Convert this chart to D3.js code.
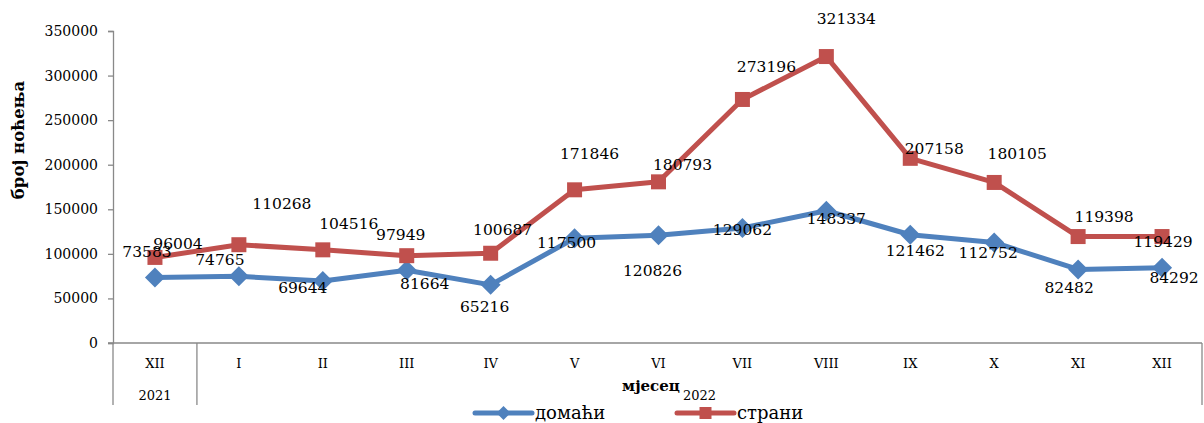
<!DOCTYPE html>
<html>
<head>
<meta charset="utf-8">
<script src="https://cdn.jsdelivr.net/npm/d3@7"></script>
<style>
  html, body { margin: 0; padding: 0; background: #fff; }
  svg { display: block; font-family: "DejaVu Serif", serif; }
</style>
</head>
<body>
<svg id="chart" width="1204" height="423"></svg>
<script>
// ---- data ----
const categories = ["XII", "I", "II", "III", "IV", "V", "VI", "VII", "VIII", "IX", "X", "XI", "XII"];
const yearGroups = [
  { label: "2021", first: 0, last: 0 },
  { label: "2022", first: 1, last: 12 }
];
const seriesNames = ["домаћи", "страни"];
const domestic = [73583, 74765, 69644, 81664, 65216, 117500, 120826, 129062, 148337, 121462, 112752, 82482, 84292];
const foreign  = [96004, 110268, 104516, 97949, 100687, 171846, 180793, 273196, 321334, 207158, 180105, 119398, 119429];
const yTicks = [0, 50000, 100000, 150000, 200000, 250000, 300000, 350000];
const yTitle = "број ноћења";
const xTitle = "мјесец";

// label offsets (pixels from point, layout only)
const domesticLabelOffsets = [[-8,-26],[-19,-17],[-20,7],[18,13],[-6,22],[-8,4],[-6,35],[0,1],[10,8],[5,16],[-6,10],[-9,18],[12,10]];
const foreignLabelOffsets  = [[23,-14],[43,-41],[26,-26],[-6,-21],[12,-24],[15,-36],[24,-17],[24,-33],[20,-38],[24,-10],[23,-29],[26,-20],[1,5]];

const colors = { blue: "#4F81BD", red: "#C0504D", axis: "#898989" };

const svg = d3.select("#chart");
const plotLeft = 113, plotRight = 1204, plotTop = 31, plotBottom = 343, rightEdge = 1202;

const x = d3.scaleBand().domain(d3.range(categories.length)).range([plotLeft, plotRight]);
const y = d3.scaleLinear().domain([0, 350000]).range([plotBottom, plotTop]);
const cx = i => x(i) + x.bandwidth() / 2;

// y axis
const yAxis = d3.axisLeft(y).tickValues(yTicks).tickSize(5).tickPadding(10).tickFormat(d3.format("d"));
const gy = svg.append("g").attr("transform", `translate(${plotLeft},0)`).call(yAxis);
gy.select(".domain").attr("stroke", colors.axis).attr("stroke-width", 1.3);
gy.selectAll(".tick line").attr("stroke", colors.axis).attr("stroke-width", 1.3);
gy.selectAll(".tick text").attr("fill", "#000").style("font-size", "14px").style("font-family", "DejaVu Serif");

// x axis baseline
svg.append("line").attr("x1", plotLeft - 5).attr("x2", rightEdge).attr("y1", plotBottom).attr("y2", plotBottom)
  .attr("stroke", colors.axis).attr("stroke-width", 1.5);
// vertical group lines
const sepBottom = 405;
svg.append("line").attr("x1", plotLeft).attr("x2", plotLeft).attr("y1", plotBottom).attr("y2", sepBottom)
  .attr("stroke", colors.axis).attr("stroke-width", 1.3);
yearGroups.forEach(g => {
  const xe = g.last === categories.length - 1 ? rightEdge : x(g.last) + x.bandwidth();
  svg.append("line").attr("x1", xe).attr("x2", xe).attr("y1", plotBottom).attr("y2", sepBottom)
    .attr("stroke", colors.axis).attr("stroke-width", 1.3);
});

// category labels
svg.append("g").selectAll("text").data(categories).join("text")
  .attr("x", (d, i) => cx(i)).attr("y", 368)
  .attr("text-anchor", "middle").style("font-size", "13px").text(d => d);

// year labels
yearGroups.forEach(g => {
  const x0 = x(g.first), x1 = g.last === categories.length - 1 ? rightEdge : x(g.last) + x.bandwidth();
  svg.append("text").attr("x", (x0 + x1) / 2).attr("y", 400)
    .attr("text-anchor", "middle").style("font-size", "13px").text(g.label);
});

// axis titles
svg.append("text").attr("transform", "translate(24,140) rotate(-90)")
  .attr("text-anchor", "middle").style("font-size", "16.5px").style("font-weight", "bold").text(yTitle);
svg.append("text").attr("x", 651).attr("y", 391)
  .attr("text-anchor", "middle").style("font-size", "15px").style("font-weight", "bold").text(xTitle);

// lines
const line = d3.line().x((d, i) => cx(i)).y(d => y(d));
const series = [
  { name: seriesNames[0], values: domestic, color: colors.blue, marker: "diamond", offs: domesticLabelOffsets },
  { name: seriesNames[1], values: foreign, color: colors.red, marker: "square", offs: foreignLabelOffsets }
];

const diamondPath = r => `M0,${-r}L${r},0L0,${r}L${-r},0Z`;
const squarePath = s => `M${-s/2},${-s/2}h${s}v${s}h${-s}Z`;

series.forEach(s => {
  svg.append("path").datum(s.values).attr("d", line)
    .attr("fill", "none").attr("stroke", s.color).attr("stroke-width", 5).attr("stroke-linejoin", "round");
  svg.append("g").selectAll("path").data(s.values).join("path")
    .attr("transform", (d, i) => `translate(${cx(i)},${y(d)})`)
    .attr("d", s.marker === "diamond" ? diamondPath(10) : squarePath(15))
    .attr("fill", s.color);
});

// data labels
series.forEach(s => {
  svg.append("g").selectAll("text").data(s.values).join("text")
    .attr("x", (d, i) => cx(i) + s.offs[i][0])
    .attr("y", (d, i) => y(d) + s.offs[i][1])
    .attr("dy", "0.36em")
    .attr("text-anchor", "middle")
    .style("font-size", "15.5px")
    .attr("fill", "#000")
    .text(d => d);
});

// legend
const legend = [
  { x0: 475, color: colors.blue, marker: "diamond", name: seriesNames[0] },
  { x0: 677, color: colors.red, marker: "square", name: seriesNames[1] }
];
legend.forEach(l => {
  const g = svg.append("g").attr("transform", `translate(${l.x0},413)`);
  g.append("line").attr("x1", 0).attr("x2", 57).attr("y1", 0).attr("y2", 0)
    .attr("stroke", l.color).attr("stroke-width", 5).attr("stroke-linecap", "round");
  g.append("path").attr("transform", "translate(28.5,0)")
    .attr("d", l.marker === "diamond" ? diamondPath(7) : squarePath(12)).attr("fill", l.color);
  g.append("text").attr("x", 60).attr("y", 0).attr("dy", "0.36em")
    .style("font-size", "18px").text(l.name);
});
</script>
</body>
</html>
